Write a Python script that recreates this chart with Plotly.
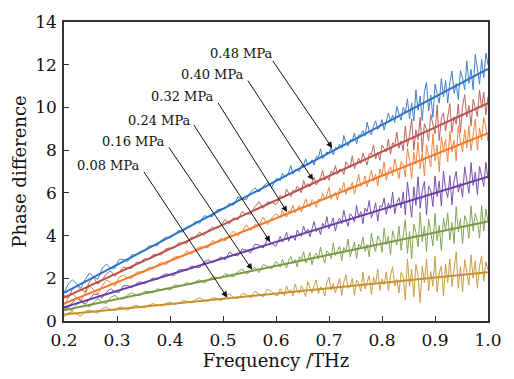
import plotly.graph_objects as go

# Frequency grid (THz): coarser below 0.6 THz, finer above
freq = [round(0.2 + 0.008 * i, 3) for i in range(51)] + \
       [round(0.604 + 0.004 * k, 3) for k in range(100)]

pressures = ["0.08 MPa", "0.16 MPa", "0.24 MPa", "0.32 MPa", "0.40 MPa", "0.48 MPa"]
colors = ["#c6922e", "#789a42", "#6b3ea6", "#f17a2b", "#b7524c", "#2d74c4"]

# Fitted line values at 0.2 THz and 1.0 THz
fit_start = [0.30, 0.50, 0.64, 0.82, 1.10, 1.32]
fit_end = [2.28, 4.66, 6.76, 8.80, 10.20, 11.80]

# Measured phase difference, read as deviation from the fitted line
dev_008 = [-0.1, 0.05, 0.1, -0.05, -0.15, 0.05, 0.1, 0.0, -0.1, 0.1,
           0.15, 0.0, -0.05, 0.1, 0.05, -0.1, 0.05, 0.1, 0.0, -0.05,
           0.05, 0.1, 0.0, -0.05, 0.05, 0.1, -0.05, 0.0, 0.1, 0.05,
           -0.05, 0.1, 0.15, 0.0, -0.05, 0.1, 0.05, -0.1, 0.1, 0.2,
           0.0, -0.05, 0.15, 0.1, -0.1, 0.2, 0.05, -0.1, 0.25, 0.1,
           -0.1,
           -0.1, 0.2, 0.05, -0.15, 0.3, 0.0, 0.1, -0.2, 0.35, 0.05,
           -0.1, 0.25, 0.0, -0.3, 0.4, 0.1, -0.15, 0.2, 0.45, -0.2,
           0.1, 0.0, -0.35, 0.3, 0.5, -0.1, 0.2, -0.25, 0.05, 0.4,
           -0.4, 0.2, 0.55, -0.1, 0.0, 0.35, -0.45, 0.25, 0.1, -0.3,
           0.6, -0.2, 0.1, 0.4, -0.5, 0.3, 0.0, 0.65, -0.35, 0.2,
           -0.1, 0.5, -0.4, 0.3, 0.7, -0.2, 0.1, -0.55, 0.4, 0.2,
           -0.9, 1.0, -0.3, 0.5, -0.8, 0.7, 0.2, -1.1, 0.6, -0.2,
           0.9, -0.6, 0.3, -0.4, 1.0, -0.7, 0.2, 0.5, -0.9, 0.6,
           -0.3, 0.8, -0.5, 0.2, 1.1, -0.6, 0.4, -0.8, 0.7, 0.1,
           -0.5, 0.9, -0.2, 0.6, -0.7, 0.3, 0.8, -0.4, 0.5, 0.1]
dev_016 = [0.1, 0.0, -0.1, 0.15, 0.25, 0.05, -0.1, 0.1, 0.2, 0.0,
           -0.1, 0.15, 0.2, 0.0, -0.05, 0.1, 0.15, 0.0, -0.05, 0.1,
           0.05, -0.05, 0.1, 0.0, 0.05, -0.1, 0.1, 0.05, 0.0, 0.1,
           -0.05, 0.05, 0.1, -0.1, 0.0, 0.1, 0.05, -0.05, 0.15, 0.0,
           -0.1, 0.1, 0.2, -0.1, 0.0, 0.15, -0.15, 0.2, 0.05, -0.1,
           0.2,
           0.1, -0.1, 0.25, 0.0, -0.2, 0.15, 0.3, -0.05, 0.1, -0.25,
           0.2, 0.05, 0.4, -0.15, 0.0, 0.3, -0.3, 0.1, 0.2, -0.1,
           0.45, 0.0, -0.35, 0.2, 0.1, -0.2, 0.5, -0.1, 0.15, 0.3,
           -0.4, 0.2, 0.0, 0.55, -0.3, 0.1, 0.35, -0.45, 0.2, 0.05,
           0.5, -0.2, 0.1, -0.5, 0.6, 0.0, -0.3, 0.4, 0.2, -0.4,
           0.7, -0.1, 0.3, -0.6, 0.5, 0.1, -0.2, 0.65, -0.5, 0.2,
           0.9, -0.7, 0.3, -1.0, 0.6, 0.2, -0.5, 1.1, -0.3, 0.4,
           -0.8, 0.7, 0.1, -0.6, 0.9, -0.4, 0.3, -0.9, 0.6, 0.0,
           0.8, -0.5, 0.3, -0.7, 1.0, -0.2, 0.4, -0.8, 0.5, 0.2,
           -0.6, 0.9, -0.3, 0.5, 0.1, -0.7, 0.8, -0.4, 0.6, 0.0]
dev_024 = [0.0, -0.1, 0.1, 0.25, 0.1, -0.15, 0.0, 0.2, 0.1, -0.1,
           0.1, 0.2, 0.0, -0.1, 0.15, 0.1, -0.05, 0.05, 0.1, -0.05,
           0.0, 0.1, -0.05, 0.05, 0.1, 0.0, -0.1, 0.1, 0.05, -0.05,
           0.1, 0.0, -0.1, 0.1, 0.15, -0.05, 0.0, 0.1, -0.1, 0.2,
           0.0, -0.1, 0.15, 0.05, -0.15, 0.2, 0.1, -0.1, 0.25, 0.0,
           -0.2,
           0.0, 0.2, -0.1, 0.05, 0.3, -0.15, 0.1, 0.0, -0.2, 0.25,
           0.05, -0.1, 0.35, 0.0, 0.15, -0.25, 0.1, 0.4, -0.1, 0.05,
           -0.3, 0.2, 0.0, 0.45, -0.15, 0.1, 0.3, -0.35, 0.05, 0.2,
           -0.1, 0.5, 0.0, -0.3, 0.25, 0.1, -0.2, 0.55, -0.05, 0.2,
           -0.4, 0.3, 0.1, 0.6, -0.25, 0.0, 0.4, -0.5, 0.2, 0.1,
           0.5, -0.3, 0.2, -0.1, 0.65, -0.4, 0.1, 0.3, -0.2, 0.5,
           -0.6, 0.9, 0.1, -0.8, 0.6, -0.3, 1.0, -0.5, 0.3, 0.7,
           -0.9, 0.4, 0.2, -0.6, 0.8, -0.2, 0.5, -0.7, 0.9, 0.0,
           -0.4, 0.6, -0.8, 0.3, 0.7, -0.3, 0.1, -0.6, 0.8, 0.2,
           -0.5, 0.9, -0.2, 0.4, -0.7, 0.6, 0.1, -0.4, 0.7, -0.1]
dev_032 = [-0.1, 0.2, 0.3, 0.0, -0.2, 0.1, 0.35, 0.1, -0.2, 0.1,
           0.3, 0.1, -0.15, 0.2, 0.2, 0.0, -0.1, 0.1, 0.05, 0.0,
           0.1, -0.05, 0.05, 0.1, -0.1, 0.0, 0.1, 0.05, -0.05, 0.15,
           -0.1, 0.05, 0.1, 0.0, -0.1, 0.15, 0.0, 0.1, -0.1, 0.05,
           0.2, -0.1, 0.0, 0.25, -0.1, 0.1, 0.0, 0.3, -0.15, 0.1,
           0.2,
           0.1, -0.05, 0.25, 0.0, -0.15, 0.1, 0.05, 0.3, -0.1, 0.0,
           0.15, -0.2, 0.05, 0.35, 0.0, -0.1, 0.2, 0.05, -0.25, 0.1,
           0.0, 0.3, -0.05, 0.15, 0.45, -0.15, 0.0, 0.1, -0.3, 0.2,
           0.05, 0.4, -0.2, 0.1, 0.0, 0.25, -0.35, 0.15, 0.5, -0.1,
           0.0, 0.3, -0.25, 0.1, 0.45, -0.1, 0.2, -0.4, 0.35, 0.0,
           0.6, -0.3, 0.1, 0.25, -0.2, 0.55, 0.0, -0.45, 0.3, 0.1,
           -0.5, 0.8, 0.2, -0.7, 0.5, -0.1, 0.9, -0.4, 0.3, -0.8,
           0.6, 0.1, -0.5, 1.0, -0.3, 0.4, -0.9, 0.7, 0.0, 0.5,
           -0.6, 0.8, -0.2, 0.3, -0.7, 0.9, 0.1, -0.4, 0.6, -0.3,
           0.7, -0.5, 0.2, 0.9, -0.6, 0.4, -0.2, 0.8, 0.3, -0.4]
dev_040 = [0.1, -0.1, 0.2, 0.3, 0.0, -0.2, 0.2, 0.3, -0.1, 0.0,
           0.2, 0.25, -0.1, 0.0, 0.15, 0.0, -0.1, 0.1, 0.0, 0.1,
           -0.05, 0.1, 0.0, -0.1, 0.1, 0.05, -0.05, 0.1, 0.0, -0.1,
           0.1, 0.0, 0.15, -0.1, 0.05, 0.1, -0.05, 0.0, 0.2, -0.1,
           0.1, -0.1, 0.2, 0.0, -0.1, 0.15, 0.3, -0.1, 0.1, 0.0,
           -0.2,
           -0.1, 0.15, 0.0, -0.05, 0.3, 0.05, -0.15, 0.1, 0.0, 0.2,
           0.05, -0.2, 0.35, 0.0, 0.1, -0.1, 0.05, 0.25, -0.15, 0.0,
           0.1, 0.4, -0.1, 0.05, -0.2, 0.2, 0.0, 0.35, -0.1, 0.1,
           0.0, -0.25, 0.3, 0.1, -0.05, 0.45, -0.2, 0.0, 0.2, -0.1,
           0.35, 0.0, -0.3, 0.2, 0.1, 0.5, -0.2, 0.05, -0.35, 0.3,
           0.1, -0.1, 0.45, -0.3, 0.2, 0.0, 0.6, -0.2, 0.1, -0.4,
           0.7, -0.3, 0.2, 0.9, -0.6, 0.3, -0.2, 0.8, -0.9, 0.4,
           0.1, -0.5, 0.7, 0.2, -0.3, 1.0, -0.7, 0.3, 0.5, -0.4,
           0.2, 0.8, -0.6, 0.1, -0.3, 0.6, -0.8, 0.4, 0.9, -0.2,
           0.3, -0.7, 0.5, 0.1, -0.4, 0.8, -0.1, 0.6, -0.5, 0.3]
dev_048 = [0.0, 0.3, 0.4, 0.1, -0.2, 0.1, 0.3, 0.0, -0.2, 0.2,
           0.3, 0.0, -0.1, 0.2, 0.1, -0.1, 0.1, 0.0, 0.05, -0.05,
           0.1, 0.0, -0.1, 0.05, 0.1, -0.05, 0.0, 0.1, -0.1, 0.05,
           0.0, 0.1, -0.1, 0.15, 0.0, -0.1, 0.1, 0.05, -0.05, 0.1,
           -0.1, 0.2, 0.0, -0.15, 0.1, 0.2, -0.1, 0.05, 0.15, -0.2,
           0.1,
           0.05, -0.1, 0.2, 0.0, -0.05, 0.1, 0.35, -0.1, 0.05, 0.0,
           -0.15, 0.1, 0.05, 0.3, -0.05, 0.0, 0.1, -0.2, 0.15, 0.05,
           0.4, -0.1, 0.0, 0.1, -0.05, 0.25, -0.2, 0.1, 0.0, 0.15,
           -0.1, 0.45, 0.05, -0.15, 0.1, 0.0, 0.3, -0.25, 0.1, 0.05,
           0.2, -0.1, 0.5, 0.0, -0.2, 0.15, 0.35, -0.1, 0.0, 0.25,
           -0.3, 0.1, 0.4, -0.05, 0.2, -0.2, 0.5, 0.1, -0.25, 0.3,
           0.0, 0.6, -0.4, 0.3, -0.6, 0.8, -0.2, 0.4, -0.8, 0.5,
           0.9, -0.5, 0.2, -0.9, 0.6, 0.1, -0.4, 0.7, -0.2, 0.5,
           -0.6, 0.3, 0.8, -0.3, 0.1, -0.7, 0.6, 0.2, -0.4, 0.9,
           -0.2, 0.4, -0.6, 1.0, 0.1, -0.5, 0.6, -0.3, 0.8, 0.2]
deviations = [dev_008, dev_016, dev_024, dev_032, dev_040, dev_048]

# Label positions (right end of text) and arrow tips
label_x = [0.347, 0.394, 0.443, 0.487, 0.543, 0.598]
label_y = [7.26, 8.40, 9.41, 10.50, 11.55, 12.51]
tail_x = [0.349, 0.396, 0.443, 0.489, 0.545, 0.592]
tail_y = [7.05, 8.20, 9.25, 10.28, 11.33, 12.25]
tip_x = [0.508, 0.555, 0.589, 0.621, 0.670, 0.706]
tip_y = [1.10, 2.40, 3.70, 5.10, 6.60, 8.10]

FONT = "DejaVu Serif"
fig = go.Figure()

for name, col, a, b, dev in zip(pressures, colors, fit_start, fit_end, deviations):
    fit_line = [a + (b - a) * (f - 0.2) / 0.8 for f in freq]
    measured = [v + d for v, d in zip(fit_line, dev)]
    fig.add_trace(go.Scatter(x=freq[:len(measured)], y=measured, mode="lines",
                             line=dict(color=col, width=1), opacity=0.9,
                             showlegend=False, name=name))
    fig.add_trace(go.Scatter(x=[0.2, 1.0], y=[a, b], mode="lines",
                             line=dict(color=col, width=2),
                             showlegend=False, name=name + " fit"))

for i, name in enumerate(pressures):
    fig.add_annotation(x=tip_x[i], y=tip_y[i], ax=tail_x[i], ay=tail_y[i],
                       xref="x", yref="y", axref="x", ayref="y",
                       text="", showarrow=True, arrowhead=2, arrowsize=1.2,
                       arrowwidth=1, arrowcolor="#111111", standoff=0)
    fig.add_annotation(x=label_x[i], y=label_y[i], xref="x", yref="y",
                       text=name, showarrow=False, xanchor="right", yanchor="middle",
                       font=dict(family=FONT, size=13, color="#111111"))

axis_common = dict(showgrid=False, zeroline=False, showline=True, mirror=True,
                   linecolor="#333333", linewidth=1.5, ticks="inside", ticklen=5,
                   tickcolor="#333333", tickfont=dict(family=FONT, size=17, color="#111111"))

fig.update_xaxes(range=[0.2, 1.0], tickvals=[0.2, 0.3, 0.4, 0.5, 0.6, 0.7, 0.8, 0.9, 1.0],
                 ticktext=["0.2", "0.3", "0.4", "0.5", "0.6", "0.7", "0.8", "0.9", "1.0"],
                 ticklabelstandoff=3,
                 title=dict(text="Frequency /THz", font=dict(family=FONT, size=18, color="#111111"),
                            standoff=0),
                 **axis_common)
fig.update_yaxes(range=[0, 14], tickvals=[0, 2, 4, 6, 8, 10, 12, 14],
                 ticklabelstandoff=2,
                 title=dict(text="Phase difference", font=dict(family=FONT, size=18, color="#111111"),
                            standoff=4),
                 **axis_common)

fig.update_layout(width=514, height=379, margin=dict(l=64, r=26, t=14, b=58),
                  plot_bgcolor="white", paper_bgcolor="white")

fig.write_html("out.html")
